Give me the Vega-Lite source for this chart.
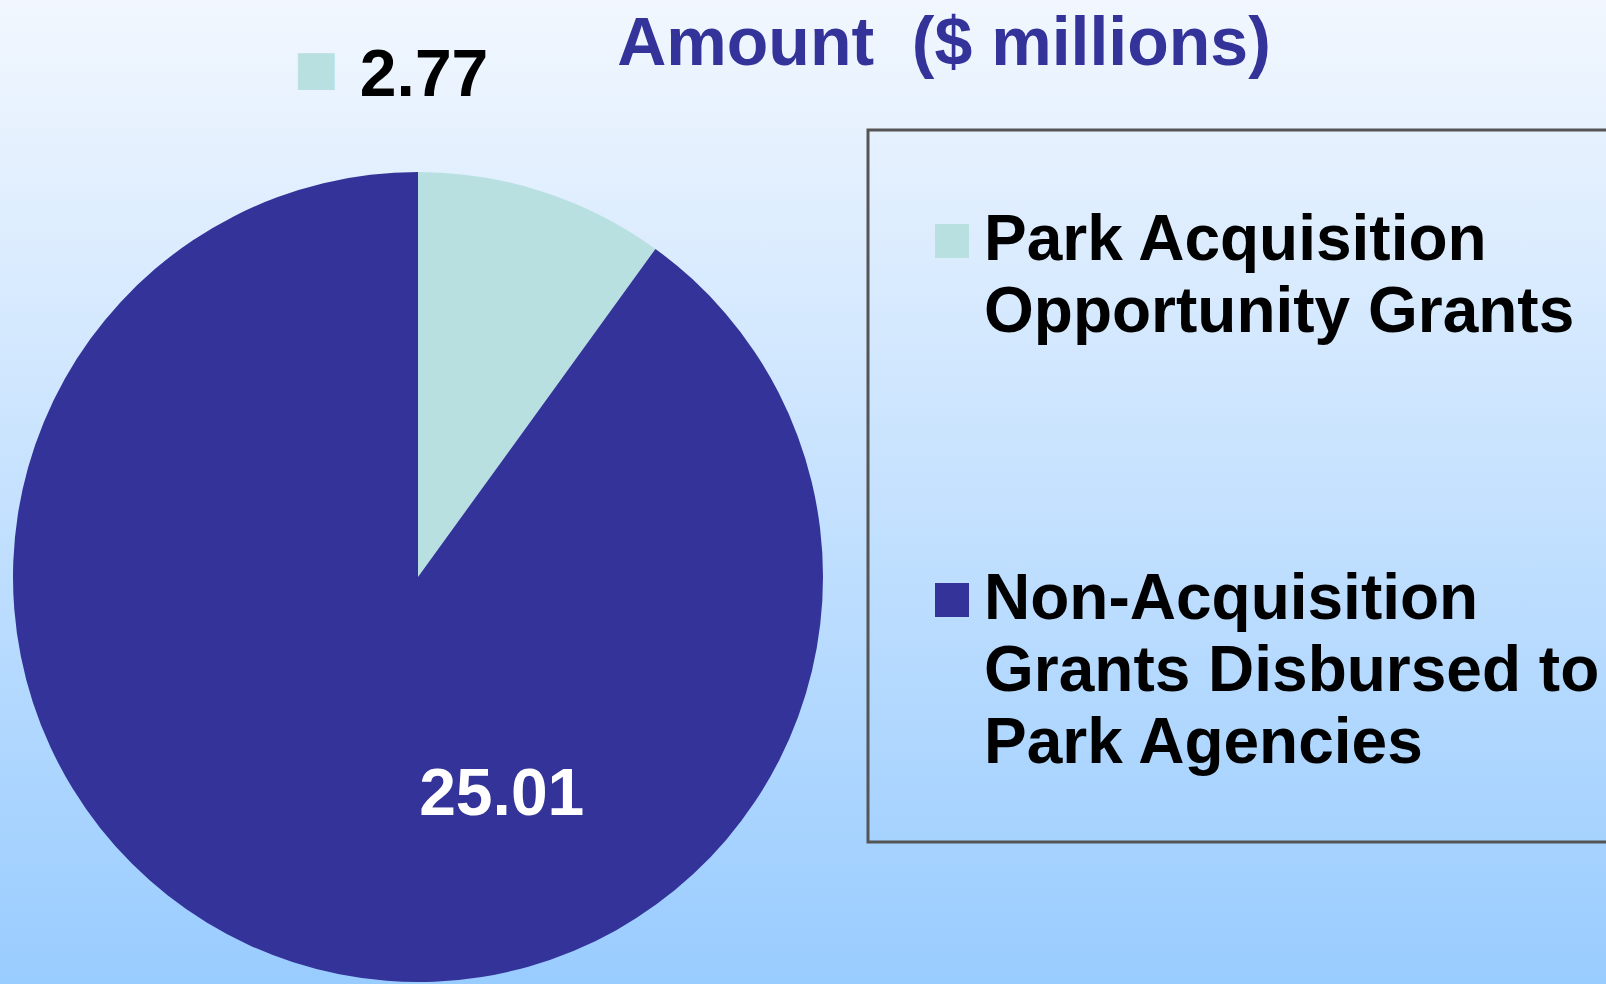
{
  "$schema": "https://vega.github.io/schema/vega-lite/v6.json",
  "width": 1606,
  "height": 984,
  "autosize": {"type": "none"},
  "padding": 0,
  "background": "#99ccff",
  "config": {"font": "Liberation Sans", "view": {"stroke": null}},
  "title": {
    "text": "Amount\u00a0 ($ millions)",
    "font": "Liberation Sans",
    "fontSize": 68,
    "fontWeight": "bold",
    "color": "#333399",
    "anchor": "middle",
    "frame": "group",
    "baseline": "alphabetic",
    "offset": 0,
    "dx": 141,
    "dy": 133
  },
  "data": {
    "values": [
      {"Category": "Park Acquisition Opportunity Grants", "Amount": 2.77},
      {"Category": "Non-Acquisition Grants Disbursed to Park Agencies", "Amount": 25.01}
    ]
  },
  "layer": [
    {
      "data": {"values": [{"panel": "background"}]},
      "mark": {
        "type": "rect",
        "color": {
          "gradient": "linear",
          "x1": 0, "y1": 0, "x2": 0, "y2": 1,
          "stops": [
            {"offset": 0, "color": "#f2f7fe"},
            {"offset": 1, "color": "#99ccff"}
          ]
        }
      },
      "encoding": {}
    },
    {
      "mark": {"type": "arc", "x": 418, "y": 577, "outerRadius": 405},
      "encoding": {
        "theta": {"field": "Amount", "type": "quantitative", "stack": true},
        "order": {"field": "Category", "sort": "descending"},
        "color": {
          "field": "Category",
          "type": "nominal",
          "scale": {
            "domain": ["Park Acquisition Opportunity Grants", "Non-Acquisition Grants Disbursed to Park Agencies"],
            "range": ["#b9e0e1", "#333399"]
          },
          "legend": {
            "orient": "none",
            "legendX": 868,
            "legendY": 130,
            "title": " ",
            "titleFontSize": 1,
            "titlePadding": 12,
            "symbolType": "square",
            "symbolSize": 1156,
            "symbolStrokeWidth": 0,
            "symbolOffset": -14,
            "labelFont": "Liberation Sans",
            "labelFontSize": 64,
            "labelFontWeight": "bold",
            "labelColor": "black",
            "labelOffset": 0,
            "labelLimit": 1000,
            "rowPadding": 223,
            "padding": 66,
            "strokeColor": "#555555",
            "labelExpr": "datum.label == 'Park Acquisition Opportunity Grants' ? ['Park Acquisition', 'Opportunity Grants'] : ['Non-Acquisition', 'Grants Disbursed to', 'Park Agencies']",
            "encode": {
              "labels": {"update": {"lineHeight": {"value": 72}}},
              "legend": {"update": {"strokeWidth": {"value": 3}}}
            }
          }
        }
      }
    },
    {
      "mark": {"type": "text", "x": 418, "y": 577, "radius": 500, "dx": -148, "dy": -5, "font": "Liberation Sans", "fontSize": 66, "fontWeight": "bold", "color": "black", "align": "center", "baseline": "alphabetic"},
      "encoding": {
        "theta": {"field": "Amount", "type": "quantitative", "stack": true},
        "order": {"field": "Category", "sort": "descending"},
        "text": {"condition": {"test": "datum.Amount < 10", "field": "Amount", "type": "quantitative", "format": ".2f"}, "value": ""}
      }
    },
    {
      "mark": {"type": "text", "x": 418, "y": 577, "radius": 500, "dx": -256, "dy": -17, "font": "DejaVu Sans", "fontSize": 48, "color": "#b9e0e1", "align": "center", "baseline": "alphabetic"},
      "encoding": {
        "theta": {"field": "Amount", "type": "quantitative", "stack": true},
        "order": {"field": "Category", "sort": "descending"},
        "text": {"condition": {"test": "datum.Amount < 10", "value": "■"}, "value": ""}
      }
    },
    {
      "mark": {"type": "text", "x": 418, "y": 577, "radius": 215, "dx": 150, "dy": 33, "font": "Liberation Sans", "fontSize": 66, "fontWeight": "bold", "color": "white", "align": "center", "baseline": "alphabetic"},
      "encoding": {
        "theta": {"field": "Amount", "type": "quantitative", "stack": true},
        "order": {"field": "Category", "sort": "descending"},
        "text": {"condition": {"test": "datum.Amount > 10", "field": "Amount", "type": "quantitative", "format": ".2f"}, "value": ""}
      }
    }
  ]
}
